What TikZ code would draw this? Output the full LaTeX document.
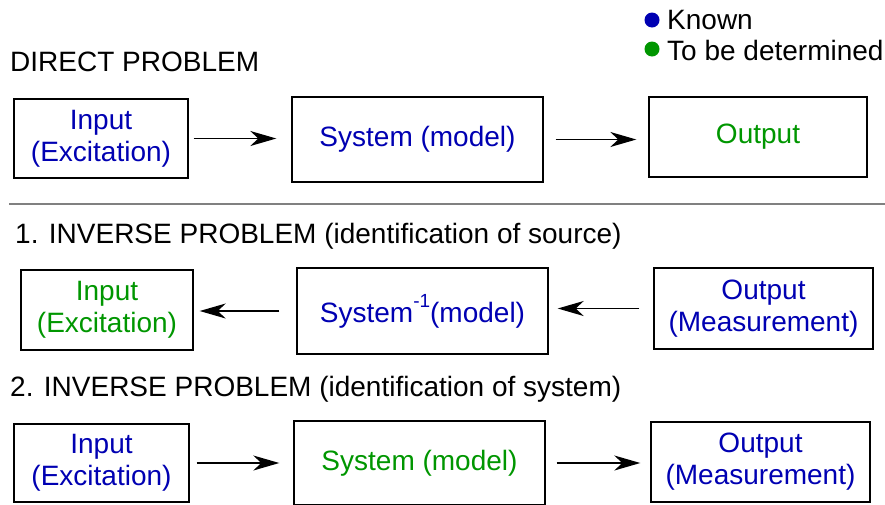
\documentclass[tikz,border=0pt]{standalone}
\usepackage{fontspec}
\setmainfont{Liberation Sans}
\usetikzlibrary{arrows.meta}
\definecolor{known}{RGB}{0,0,178}
\definecolor{tobe}{RGB}{0,150,0}
\tikzstyle{block} = [rectangle, draw=black, line width=1.4pt, align=center, font=\fontsize{28}{32}\selectfont]
\tikzstyle{title} = [anchor=west, inner sep=0pt, font=\fontsize{28}{32}\selectfont]
\tikzstyle{dot} = [circle, inner sep=0pt, minimum size=15pt]
\tikzstyle{arrow} = [line width=1.8pt, -{Stealth[length=26pt,width=15pt,inset=8pt]}]

\begin{document}
\begin{tikzpicture}[x=1pt,y=-1pt]
\useasboundingbox (0,0) rectangle (885,504);
% legend
\node (KnownDot)[dot, fill=known] at (652,20) {};
\node (KnownTxt)[title] at (667,20) {Known};
\node (TobeDot)[dot, fill=tobe] at (652,49) {};
\node (TobeTxt)[title] at (667,50) {To be determined};

% direct problem
\node (DirTitle)[title] at (10,62) {DIRECT PROBLEM};
\node (DirIn)[block, minimum width=174pt, minimum height=79pt, text=known] at (101,138.5) {Input\\(Excitation)};
\node (DirSys)[block, minimum width=251pt, minimum height=85pt, text=known] at (417.5,139.5) {System (model)};
\node (DirOut)[block, minimum width=218pt, minimum height=80pt, text=tobe] at (758,137) {Output};
\draw [arrow, shorten <=5pt, shorten >=15pt](DirIn.east) -- (DirIn.east -| DirSys.west);
\draw [arrow, shorten <=12pt, shorten >=12pt](DirSys.east) -- (DirSys.east -| DirOut.west);

\coordinate (SepL) at (9,204);
\coordinate (SepR) at (885,204);
\draw [gray, line width=1.6pt](SepL) -- (SepR);

% inverse problem 1
\node (SrcTitle)[title] at (15,236) {1. INVERSE PROBLEM (identification of source)};
\node (SrcIn)[block, minimum width=172pt, minimum height=80pt, text=tobe] at (107,310) {Input\\(Excitation)};
\node (SrcSys)[block, minimum width=251pt, minimum height=86pt, text=known] at (422.5,311) {System\raisebox{15pt}{\fontsize{19}{19}\selectfont -1}(model)};
\node (SrcOut)[block, minimum width=219pt, minimum height=81pt, text=known] at (763.5,308.5) {Output\\(Measurement)};
\draw [arrow, shorten <=17pt, shorten >=6pt](SrcSys.west) -- (SrcSys.west -| SrcIn.east);
\draw [arrow, shorten <=14pt, shorten >=9pt](SrcOut.west) -- (SrcOut.west -| SrcSys.east);

% inverse problem 2
\node (IdTitle)[title] at (10,389) {2. INVERSE PROBLEM (identification of system)};
\node (IdIn)[block, minimum width=175pt, minimum height=78pt, text=known] at (101.5,463) {Input\\(Excitation)};
\node (IdSys)[block, minimum width=251pt, minimum height=84pt, text=tobe] at (419.5,463) {System (model)};
\node (IdOut)[block, minimum width=219pt, minimum height=80pt, text=known] at (760.5,462) {Output\\(Measurement)};
\draw [arrow, shorten <=7pt, shorten >=14pt](IdIn.east) -- (IdIn.east -| IdSys.west);
\draw [arrow, shorten <=11pt, shorten >=10pt](IdSys.east) -- (IdSys.east -| IdOut.west);
\end{tikzpicture}
\end{document}
